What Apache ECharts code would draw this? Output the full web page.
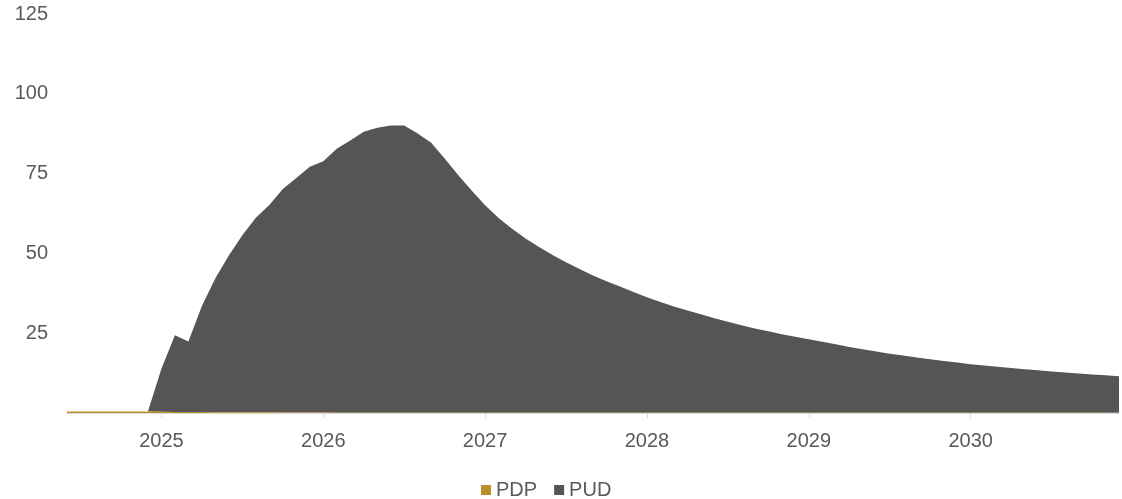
<!DOCTYPE html>
<html>
<head>
<meta charset="utf-8">
<title>PDP / PUD</title>
<script src="https://cdn.jsdelivr.net/npm/echarts@6/dist/echarts.min.js"></script>
<style>
  html, body { margin: 0; padding: 0; background: #fff; }
  #chart { width: 1122px; height: 499px; }
</style>
</head>
<body>
<div id="chart"></div>
<script>
// Monthly periods, June 2024 through December 2030
const startYear = 2024, startMonth = 6, monthCount = 79;
const months = [];
for (let k = 0; k < monthCount; k++) {
  const m = (startMonth - 1 + k) % 12 + 1;
  const y = startYear + Math.floor((startMonth - 1 + k) / 12);
  months.push(y + '-' + String(m).padStart(2, '0'));
}

// Proved developed producing
const pdp = [
  0.5, 0.5, 0.5, 0.5, 0.5, 0.5, 0.45, 0.4, 0.35, 0.3,
  0.3, 0.25, 0.25, 0.2, 0.2, 0.2, 0.15, 0.15, 0.15, 0.15,
  0.1, 0.1, 0.1, 0.1, 0.1, 0.1, 0.1, 0.1, 0.1, 0.1,
  0.1, 0.1, 0.1, 0.1, 0.1, 0.1, 0.1, 0.1, 0.1, 0.1,
  0.1, 0.1, 0.1, 0.1, 0.1, 0.1, 0.1, 0.1, 0.1, 0.1,
  0.1, 0.1, 0.1, 0.1, 0.1, 0.1, 0.1, 0.1, 0.1, 0.1,
  0.1, 0.1, 0.1, 0.1, 0.1, 0.1, 0.1, 0.1, 0.1, 0.1,
  0.1, 0.1, 0.1, 0.1, 0.1, 0.1, 0.1, 0.1, 0.1
];

// Proved undeveloped
const pud = [
  0, 0, 0, 0, 0, 0, 0, 13.5, 24.0, 22.1,
  33.2, 42.0, 49.1, 55.5, 61.0, 65.0, 70.0, 73.5, 77.0, 78.7,
  82.7, 85.3, 88.0, 89.3, 90.0, 90.0, 87.5, 84.6, 79.6, 74.5,
  69.6, 65.0, 61.0, 57.6, 54.6, 51.9, 49.4, 47.1, 45.0, 43.0,
  41.2, 39.5, 37.8, 36.2, 34.7, 33.3, 32.0, 30.8, 29.6, 28.5,
  27.4, 26.4, 25.5, 24.6, 23.8, 23.0, 22.2, 21.4, 20.6, 19.9,
  19.2, 18.5, 17.9, 17.3, 16.7, 16.2, 15.7, 15.2, 14.8, 14.4,
  14.0, 13.6, 13.3, 12.9, 12.6, 12.3, 12.0, 11.7, 11.4
];

const yTicks = [0, 25, 50, 75, 100, 125];

const textColor = '#595959';
const fontFamily = "'Liberation Sans', Arial, sans-serif";
const isJanuary = (idx, val) => String(val).endsWith('-01');

const chart = echarts.init(document.getElementById('chart'), null, { renderer: 'canvas' });
chart.setOption({
  animation: false,
  backgroundColor: '#ffffff',
  textStyle: { fontFamily: fontFamily },
  grid: { left: 67, right: 3, top: 14, bottom: 86, containLabel: false },
  legend: {
    data: ['PDP', 'PUD'],
    top: 475,
    left: 476,
    icon: 'rect',
    itemWidth: 10,
    itemHeight: 10,
    itemGap: 17,
    textStyle: { color: textColor, fontSize: 20, fontFamily: fontFamily }
  },
  xAxis: {
    type: 'category',
    data: months,
    boundaryGap: false,
    axisLine: { show: true, lineStyle: { color: '#d9d9d9', width: 1 } },
    axisTick: { show: true, interval: isJanuary, length: 5, lineStyle: { color: '#d9d9d9' } },
    axisLabel: {
      interval: isJanuary,
      formatter: v => v.slice(0, 4),
      color: textColor,
      fontSize: 20,
      margin: 18,
      fontFamily: fontFamily
    },
    splitLine: { show: false }
  },
  yAxis: {
    type: 'value',
    min: yTicks[0],
    max: yTicks[yTicks.length - 1],
    interval: 25,
    axisLine: { show: false },
    axisTick: { show: false },
    splitLine: { show: false },
    axisLabel: {
      formatter: v => (v === 0 ? '' : String(v)),
      color: textColor,
      fontSize: 20,
      margin: 19,
      fontFamily: fontFamily
    }
  },
  series: [
    {
      name: 'PDP',
      type: 'line',
      stack: 'total',
      data: pdp,
      symbol: 'none',
      itemStyle: { color: '#bb8f2d' },
      lineStyle: { width: 0 },
      areaStyle: { color: '#bb8f2d', opacity: 1 },
      z: 3
    },
    {
      name: 'PUD',
      type: 'line',
      stack: 'total',
      data: pud,
      symbol: 'none',
      itemStyle: { color: '#555555' },
      lineStyle: { width: 0 },
      areaStyle: { color: '#555555', opacity: 1 },
      z: 2
    }
  ]
});
</script>
</body>
</html>
